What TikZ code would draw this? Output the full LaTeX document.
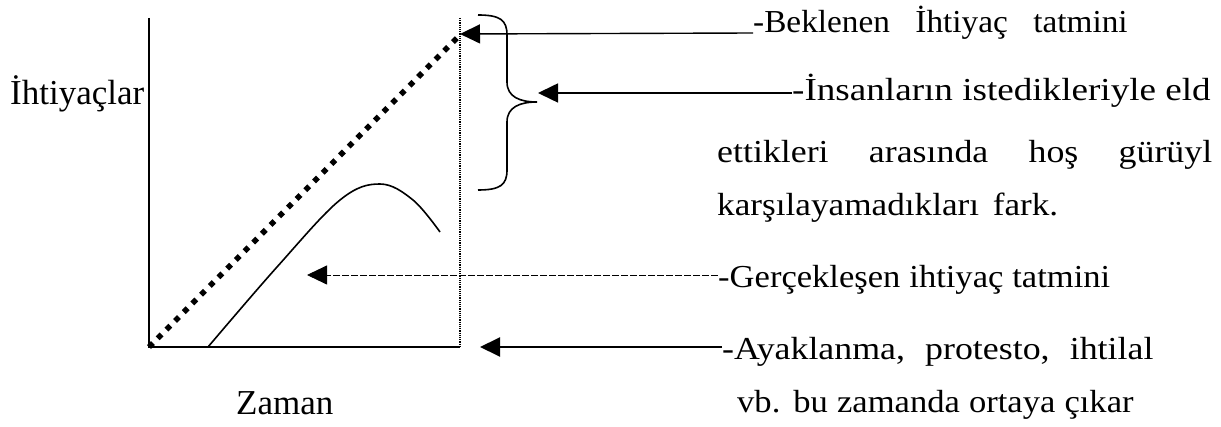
\documentclass[tikz,border=0pt]{standalone}
\usepackage{fontspec}
\setmainfont{Liberation Serif}
\usepackage{tikz}
\usetikzlibrary{arrows.meta}

\begin{document}
\begin{tikzpicture}[x=1pt,y=-1pt,
	lbl/.style={anchor=base west,inner sep=0pt,font=\fontsize{32}{38}\selectfont},
	axlbl/.style={anchor=base west,inner sep=0pt,font=\fontsize{35}{40}\selectfont},
	pointer/.style={-{Triangle[length=20pt,width=19pt]},line width=1.6pt},
	dpointer/.style={pointer,line width=0.9pt,dash pattern=on 7pt off 2pt}]
	\useasboundingbox (0,0) rectangle (1221,427);
	\coordinate (o) at (149,347);
	\coordinate (ytop) at (149,18);
	\coordinate (xend) at (460,347);
	\coordinate (vtop) at (460,18);
	\coordinate (dtop) at (457,38);
	\coordinate (pk) at (460,34);
	\coordinate (bt) at (537,102);
	\coordinate (it) at (538,93);
	\coordinate (gtip) at (307,275);
	\coordinate (atip) at (480,347);
	% axes and curves
	\draw[line width=2pt] (ytop) -- (o) -- (xend);
	\draw[line width=1.2pt,densely dotted] (vtop) -- (xend);
	\draw[line width=5.5pt,dash pattern=on 5.5pt off 6.8pt] (o) -- (dtop);
	\draw[line width=1.6pt] plot[smooth,tension=0.6] coordinates {(208,347) (277,267) (340,200) (380,184) (413,200) (440,232)};
	% brace
	\draw[line width=1.6pt] (478,15) .. controls (500,15) and (507,20) .. (507,35) -- (507,82) .. controls (507,97) and (520,102) .. (bt) .. controls (520,102) and (507,107) .. (507,122) -- (507,170) .. controls (507,185) and (500,190) .. (478,190);
	\node[axlbl] (ihti) at (10,105) {İhtiyaçlar};
	\node[axlbl] (zaman) at (236,415) {Zaman};
	\node[lbl] (bek) at (753,33) {\scalebox{1.04}[1]{\makebox[360pt][s]{-Beklenen İhtiyaç tatmini}}};
	\node[lbl] (ins) at (792,101) {\scalebox{1.16}[1]{-İnsanların istedikleriyle eld}};
	\node[lbl] (ett) at (717,163) {\scalebox{1.12}[1]{\makebox[442pt][s]{ettikleri arasında hoş gürüyl}}};
	\node[lbl] (kar) at (717,216) {\scalebox{1.1}[1]{\makebox[310pt][s]{karşılayamadıkları fark.}}};
	\node[lbl] (ger) at (718,288) {\scalebox{1.08}[1]{\makebox[363pt][s]{-Gerçekleşen ihtiyaç tatmini}}};
	\node[lbl] (ayak) at (722,360) {\scalebox{1.12}[1]{\makebox[385pt][s]{-Ayaklanma, protesto, ihtilal}}};
	\node[lbl] (vb) at (737,413) {\scalebox{1.08}[1]{\makebox[367pt][s]{vb. bu zamanda ortaya çıkar}}};
	\draw[pointer,line width=1.4pt] (bek.base west) -- (pk);
	\draw[pointer] ([yshift=8pt]ins.base west) -- (it);
	\draw[dpointer] ([yshift=13pt]ger.base west) -- (gtip);
	\draw[pointer,line width=2pt] ([yshift=13pt]ayak.base west) -- (atip);
\end{tikzpicture}
\end{document}
